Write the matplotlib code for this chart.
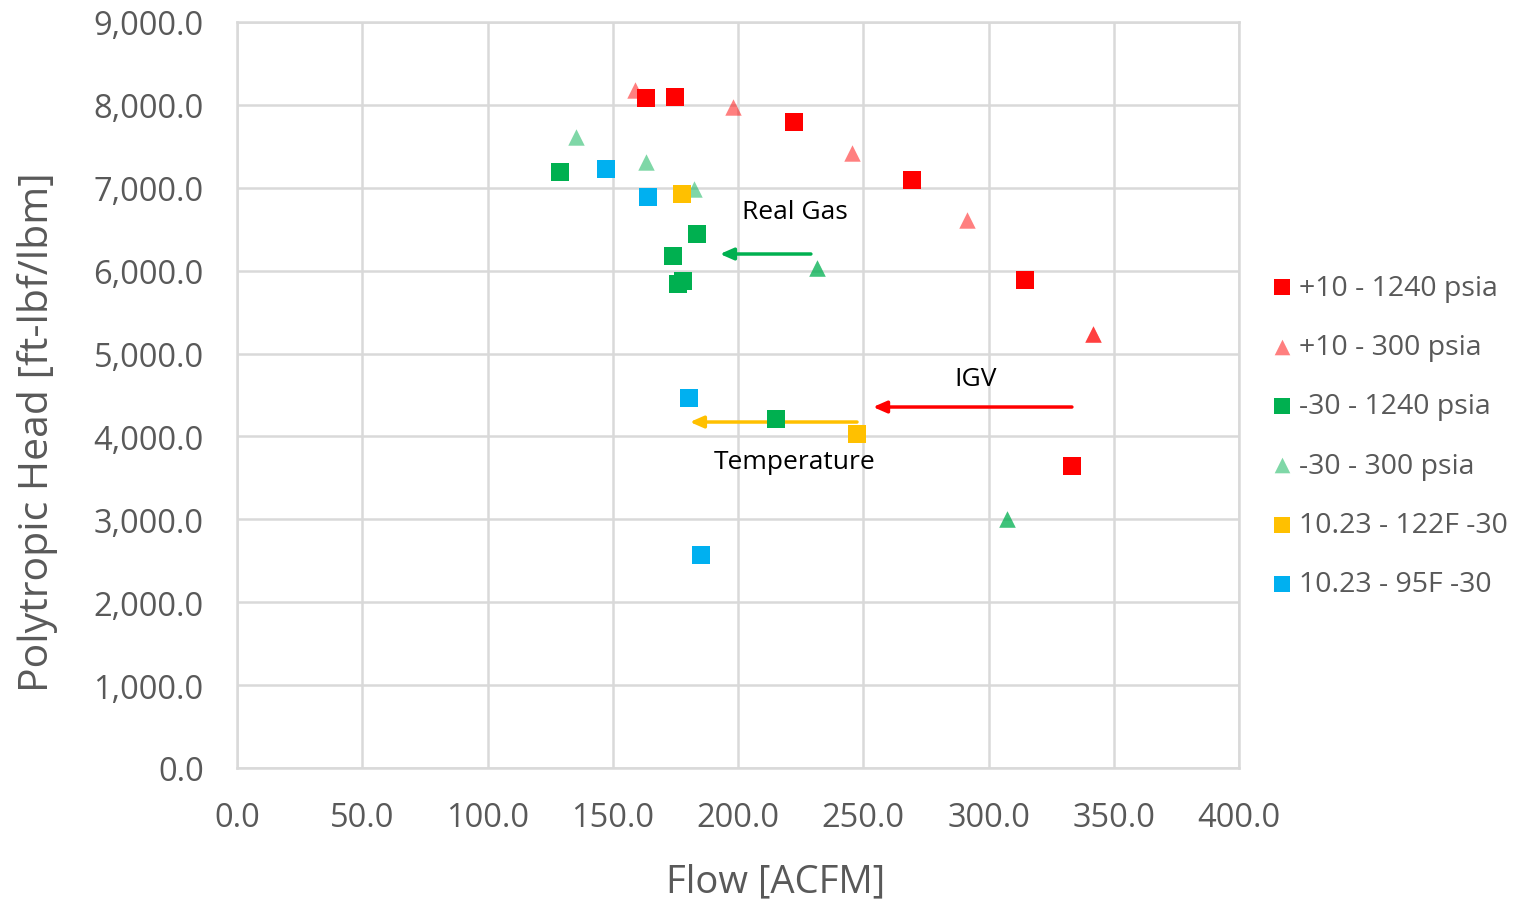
import matplotlib
matplotlib.use("Agg")
import matplotlib.pyplot as plt
from matplotlib.ticker import FuncFormatter

plt.rcParams['font.family'] = ['Open Sans', 'DejaVu Sans']

# +10 - 1240 psia
red_x = [163.3, 174.9, 222.4, 269.5, 314.6, 333.3]
red_y = [8083, 8095, 7794, 7094, 5887, 3643]
# +10 - 300 psia
pink_x = [158.9, 198.0, 245.5, 291.4, 341.7, 341.7]
pink_y = [8180, 7975, 7419, 6611, 5236, 5236]
# -30 - 1240 psia
green_x = [128.9, 183.6, 174.1, 176.0, 178.0, 215.2]
green_y = [7190, 6442, 6177, 5840, 5880, 4210]
# -30 - 300 psia
lgreen_x = [135.3, 163.3, 182.4, 231.5, 231.5, 307.4, 307.4]
lgreen_y = [7612, 7311, 6985, 6032, 6032, 3004, 3004]
# 10.23 - 122F -30
yellow_x = [177.6, 247.5]
yellow_y = [6925, 4029]
# 10.23 - 95F -30
blue_x = [147.3, 164.1, 180.4, 185.2]
blue_y = [7226, 6889, 4464, 2570]

labels = ['+10 - 1240 psia', '+10 - 300 psia', '-30 - 1240 psia',
          '-30 - 300 psia', '10.23 - 122F -30', '10.23 - 95F -30']

fig = plt.figure(figsize=(15.24, 9.03), dpi=100)
ax = fig.add_axes([237 / 1524, 1 - 769 / 903, 1002 / 1524, 746 / 903])

sq = 150
tri = 140
ax.scatter(red_x, red_y, marker='s', s=sq, color='#ff0000', lw=0, label=labels[0], zorder=3)
ax.scatter(pink_x, pink_y, marker='^', s=tri, color='#ff0000', alpha=0.5, lw=0, label=labels[1], zorder=3)
ax.scatter(green_x, green_y, marker='s', s=sq, color='#00b050', lw=0, label=labels[2], zorder=3)
ax.scatter(lgreen_x, lgreen_y, marker='^', s=tri, color='#00b050', alpha=0.5, lw=0, label=labels[3], zorder=3)
ax.scatter(yellow_x, yellow_y, marker='s', s=sq, color='#ffc000', lw=0, label=labels[4], zorder=3)
ax.scatter(blue_x, blue_y, marker='s', s=sq, color='#00b0f0', lw=0, label=labels[5], zorder=3)

# arrows and notes
arrows = [((229.1, 6201), (192.8, 6201), '#00b050'),
          ((333.3, 4355), (253.9, 4355), '#ff0000'),
          ((247.5, 4174), (180.8, 4174), '#ffc000')]
for start, end, c in arrows:
    ax.annotate('', xy=end, xytext=start,
                arrowprops=dict(arrowstyle='-|>,head_length=0.8,head_width=0.35',
                                color=c, lw=2.5, shrinkA=0, shrinkB=0), zorder=2)

ax.text(222.8, 6708, 'Real Gas', fontsize=19, ha='center', va='center', color='black')
ax.text(295.0, 4705, 'IGV', fontsize=19, ha='center', va='center', color='black')
ax.text(222.8, 3692, 'Temperature', fontsize=19, ha='center', va='center', color='black')

ax.set_xlim(0, 400)
ax.set_ylim(0, 9000)
ax.set_xticks(range(0, 401, 50))
ax.set_yticks(range(0, 9001, 1000))
ax.xaxis.set_major_formatter(FuncFormatter(lambda v, p: f'{v:,.1f}'))
ax.yaxis.set_major_formatter(FuncFormatter(lambda v, p: f'{v:,.1f}'))
ax.tick_params(axis='x', length=0, labelsize=23.5, colors='#595959', pad=24)
ax.tick_params(axis='y', length=0, labelsize=23.5, colors='#595959', pad=24)
ax.grid(True, color='#d9d9d9', lw=1.8)
ax.set_axisbelow(True)
for s in ax.spines.values():
    s.set_color('#d9d9d9')
    s.set_linewidth(1.8)

ax.set_xlabel('Flow [ACFM]', fontsize=27.5, color='#595959')
ax.xaxis.set_label_coords((776 - 237) / 1002, -(882 - 769) / 746, transform=ax.transAxes)
ax.xaxis.label.set_va('center')
ax.set_ylabel('Polytropic Head [ft-lbf/lbm]', fontsize=29.5, color='#595959')
ax.yaxis.set_label_coords(-(237 - 38) / 1002, (769 - 432) / 746, transform=ax.transAxes)
ax.yaxis.label.set_va('center')

leg = fig.legend(loc='center left', bbox_to_anchor=(1239 / 1524, 1 - 437 / 903),
                 frameon=False, fontsize=20.5, labelspacing=1.1, handletextpad=0.0,
                 handlelength=1.2, scatterpoints=1, markerscale=0.95)
for t in leg.get_texts():
    t.set_color('#595959')

fig.savefig('out.png', dpi=100)
